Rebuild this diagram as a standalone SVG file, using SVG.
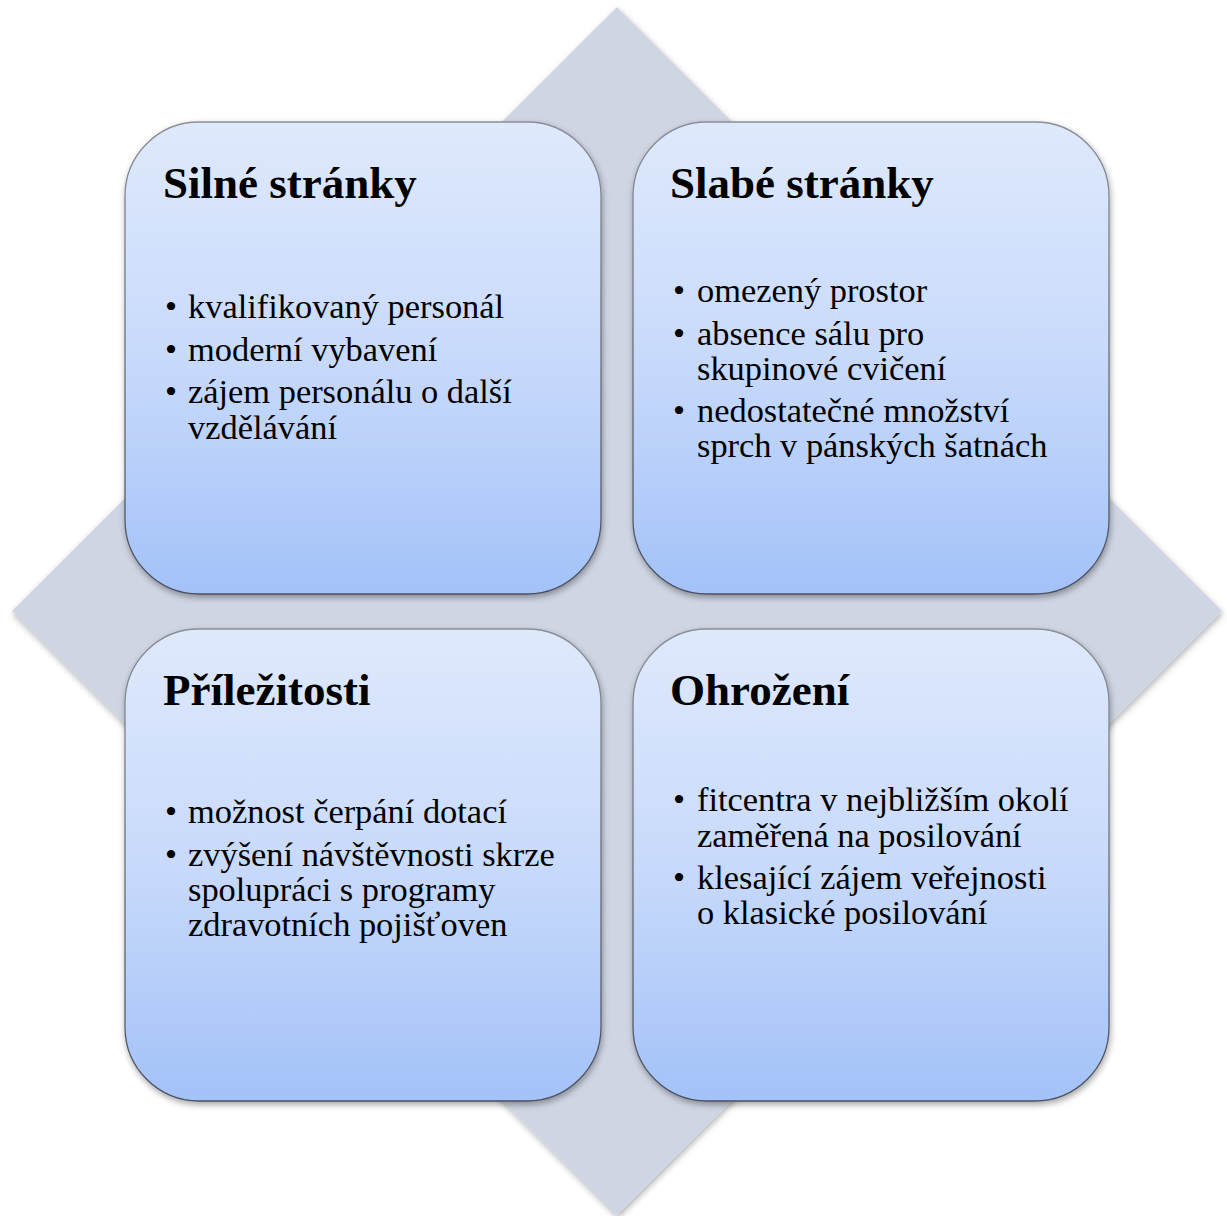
<svg xmlns="http://www.w3.org/2000/svg" width="1227" height="1216" viewBox="0 0 1227 1216">
<defs>
<linearGradient id="g" x1="0" y1="0" x2="0" y2="1">
<stop offset="0" stop-color="#dfe9fc"/>
<stop offset="0.5" stop-color="#c8dafb"/>
<stop offset="1" stop-color="#a3c2f8"/>
</linearGradient>
<linearGradient id="st" x1="0" y1="0" x2="0" y2="1">
<stop offset="0" stop-color="#8a8f99"/>
<stop offset="1" stop-color="#4a5060"/>
</linearGradient>
<filter id="sh" x="-10%" y="-10%" width="120%" height="120%">
<feDropShadow dx="1" dy="3" stdDeviation="3" flood-color="#000" flood-opacity="0.35"/>
</filter>
<filter id="dsh" x="-5%" y="-5%" width="110%" height="110%">
<feDropShadow dx="1" dy="3" stdDeviation="3" flood-color="#000" flood-opacity="0.3"/>
</filter>
</defs>
<style>
.box{fill:url(#g);stroke:url(#st);stroke-width:1.3;filter:url(#sh)}
.t{font-family:"Liberation Serif","Times New Roman",serif;font-weight:bold;font-size:45px;fill:#000}
.b{font-family:"Liberation Serif","Times New Roman",serif;font-size:34.4px;fill:#000}
</style>
<g id="diamond">
<polygon points="617,7 1222,611 617,1215 12,611" fill="#cfd5e3" filter="url(#dsh)"/>
</g>
<g id="strengths">
<rect class="box" x="125" y="122" width="476" height="472" rx="74" ry="74"/>
<text class="t" x="163" y="198">Silné stránky</text>
<text class="b"><tspan x="165" y="318">•</tspan><tspan x="188" y="318">kvalifikovaný personál</tspan><tspan x="165" y="361">•</tspan><tspan x="188" y="361">moderní vybavení</tspan><tspan x="165" y="403">•</tspan><tspan x="188" y="403">zájem personálu o další</tspan><tspan x="188" y="439">vzdělávání</tspan></text>
</g>
<g id="weaknesses">
<rect class="box" x="633" y="122" width="476" height="472" rx="74" ry="74"/>
<text class="t" x="670" y="198">Slabé stránky</text>
<text class="b"><tspan x="673" y="302">•</tspan><tspan x="697" y="302">omezený prostor</tspan><tspan x="673" y="345">•</tspan><tspan x="697" y="345">absence sálu pro</tspan><tspan x="697" y="380">skupinové cvičení</tspan><tspan x="673" y="422">•</tspan><tspan x="697" y="422">nedostatečné množství</tspan><tspan x="697" y="457">sprch v pánských šatnách</tspan></text>
</g>
<g id="opportunities">
<rect class="box" x="125" y="629" width="476" height="472" rx="74" ry="74"/>
<text class="t" x="163" y="705">Příležitosti</text>
<text class="b"><tspan x="165" y="823">•</tspan><tspan x="188" y="823">možnost čerpání dotací</tspan><tspan x="165" y="866">•</tspan><tspan x="188" y="866">zvýšení návštěvnosti skrze</tspan><tspan x="188" y="901">spolupráci s programy</tspan><tspan x="188" y="936">zdravotních pojišťoven</tspan></text>
</g>
<g id="threats">
<rect class="box" x="633" y="629" width="476" height="472" rx="74" ry="74"/>
<text class="t" x="670" y="705">Ohrožení</text>
<text class="b"><tspan x="673" y="811">•</tspan><tspan x="697" y="811">fitcentra v nejbližším okolí</tspan><tspan x="697" y="847">zaměřená na posilování</tspan><tspan x="673" y="889">•</tspan><tspan x="697" y="889">klesající zájem veřejnosti</tspan><tspan x="697" y="924">o klasické posilování</tspan></text>
</g>
<g id="connectors"></g>
</svg>
